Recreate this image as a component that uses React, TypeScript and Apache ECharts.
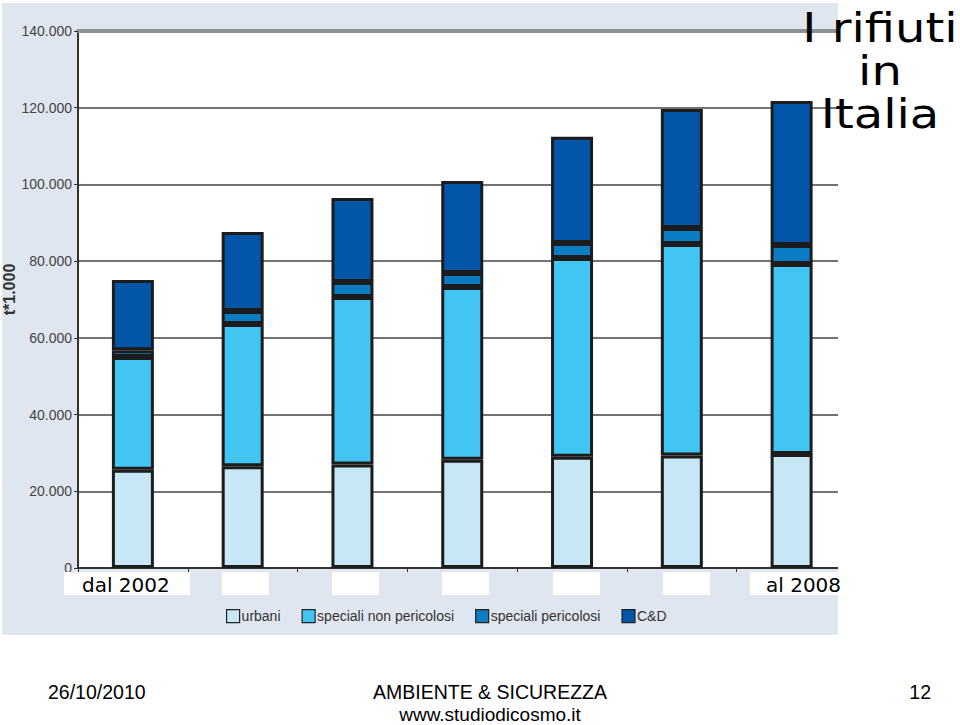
import React, { useEffect, useRef } from "react";
import * as echarts from "echarts";

const years = ["2002", "2003", "2004", "2005", "2006", "2007", "2008"];
const urbani = [25600, 26500, 27000, 28200, 29000, 29300, 29700];
const specialiNonPericolosi = [29400, 37100, 43650, 45060, 51800, 55170, 49550];
const specialiPericolosi = [1800, 3400, 3900, 3640, 3900, 4180, 4950];
const cd = [18300, 20600, 21900, 24000, 27700, 31000, 37550];
const seriesNames = ["urbani", "speciali non pericolosi", "speciali pericolosi", "C&D"];
const seriesColors = ["#c7e7f7", "#42c5f2", "#0b7dc4", "#0356a7"];
const yTicks = [0, 20000, 40000, 60000, 80000, 100000, 120000, 140000];
const titleLines = ["I rifiuti", "in", "Italia"];

const ARIAL = "'Liberation Sans', Arial, sans-serif";
const COMIC = "'DejaVu Sans', sans-serif";

function fmt(v: number) {
  if (v === 0) return "0";
  const s = String(v);
  return s.slice(0, s.length - 3) + "." + s.slice(s.length - 3);
}

export default function App() {
  const ref = useRef<HTMLDivElement>(null);
  useEffect(() => {
    if (!ref.current) return;
    const chart = echarts.init(ref.current, null, { renderer: "svg" });
    const data = [urbani, specialiNonPericolosi, specialiPericolosi, cd];
    const boxXs = [222, 332, 442, 553, 663];
    chart.setOption({
      animation: false,
      backgroundColor: "#ffffff",
      grid: {
        left: 78,
        top: 31,
        right: 113.5,
        bottom: 157,
        show: true,
        backgroundColor: "#ffffff",
        borderWidth: 0,
        outerBoundsMode: "none",
        containLabel: false,
      },
      legend: {
        left: 221,
        top: 604,
        itemWidth: 13,
        itemHeight: 13,
        itemGap: 21,
        icon: "rect",
        data: seriesNames,
        textStyle: { fontFamily: ARIAL, fontSize: 14, color: "#333", padding: [0, 0, 0, -3] },
        itemStyle: { borderColor: "#222", borderWidth: 1.2 },
      },
      xAxis: [
        {
          type: "category",
          data: years,
          position: "bottom",
          axisLine: { lineStyle: { color: "#333", width: 2 } },
          axisTick: { show: true, length: 4, lineStyle: { color: "#333" } },
          axisLabel: { show: false },
          splitLine: { show: false },
        },
        {
          type: "category",
          data: years,
          position: "top",
          axisLine: { lineStyle: { color: "#8c9197", width: 4 } },
          axisTick: { show: false },
          axisLabel: { show: false },
        },
      ],
      yAxis: {
        type: "value",
        min: 0,
        max: 140000,
        interval: 20000,
        name: "t*1.000",
        nameLocation: "middle",
        nameRotate: 90,
        nameGap: 61,
        nameMoveOverlap: false,
        nameTextStyle: { fontFamily: ARIAL, fontSize: 16, fontWeight: "bold", color: "#333", padding: [0, 0, 0, 20] },
        axisLine: { show: true, lineStyle: { color: "#333", width: 2 } },
        axisTick: { show: true, length: 4, lineStyle: { color: "#333" } },
        axisLabel: {
          margin: 6,
          fontFamily: ARIAL,
          fontSize: 14,
          color: "#444",
          formatter: (v: number) => (yTicks.includes(v) ? fmt(v) : ""),
        },
        splitLine: { show: true, lineStyle: { color: "#444", width: 1.5 } },
      },
      series: seriesNames.map((name, i) => ({
        name,
        type: "bar",
        stack: "total",
        barWidth: 42,
        data: data[i],
        itemStyle: { color: seriesColors[i], borderColor: "#1c1c1c", borderWidth: 3 },
      })),
      graphic: [
        { type: "rect", z: -1, shape: { x: 2, y: 3, width: 836, height: 632 }, style: { fill: "#e0e6f0" } },
        { type: "rect", z: 1, shape: { x: 64, y: 572, width: 126, height: 23 }, style: { fill: "#ffffff" } },
        ...boxXs.map((x) => ({ type: "rect", z: 1, shape: { x, y: 572, width: 47, height: 23 }, style: { fill: "#ffffff" } })),
        { type: "rect", z: 1, shape: { x: 750, y: 572, width: 88, height: 23 }, style: { fill: "#ffffff" } },
        { type: "rect", z: 50, shape: { x: 838, y: 0, width: 122, height: 640 }, style: { fill: "#ffffff" } },
        {
          type: "text", z: 60, x: 82, y: 585,
          style: { text: "dal 2002", fontFamily: COMIC, fontSize: 20, fill: "#000", textVerticalAlign: "middle" },
        },
        {
          type: "text", z: 60, x: 766, y: 585,
          style: { text: "al 2008", fontFamily: COMIC, fontSize: 20, fill: "#000", textVerticalAlign: "middle" },
        },
        ...titleLines.map((t, i) => ({
          type: "text",
          z: 60,
          x: 880,
          y: 28 + i * 43,
          scaleX: 1.2,
          style: {
            text: t,
            fontFamily: COMIC,
            fontSize: 40,
            fill: "#000",
            textAlign: "center",
            textVerticalAlign: "middle",
          },
        })),
        {
          type: "text", z: 60, x: 48, y: 692,
          style: { text: "26/10/2010", fontFamily: ARIAL, fontSize: 19.5, fill: "#000", textVerticalAlign: "middle" },
        },
        {
          type: "text", z: 60, x: 490, y: 692,
          style: { text: "AMBIENTE & SICUREZZA", fontFamily: ARIAL, fontSize: 19.5, fill: "#000", textAlign: "center", textVerticalAlign: "middle" },
        },
        {
          type: "text", z: 60, x: 490, y: 714,
          style: { text: "www.studiodicosmo.it", fontFamily: ARIAL, fontSize: 19, fill: "#000", textAlign: "center", textVerticalAlign: "middle" },
        },
        {
          type: "text", z: 60, x: 931, y: 692,
          style: { text: "12", fontFamily: ARIAL, fontSize: 19.5, fill: "#000", textAlign: "right", textVerticalAlign: "middle" },
        },
      ],
    });
    return () => chart.dispose();
  }, []);
  return <div ref={ref} style={{ position: "fixed", left: 0, top: 0, width: 960, height: 725 }} />;
}
